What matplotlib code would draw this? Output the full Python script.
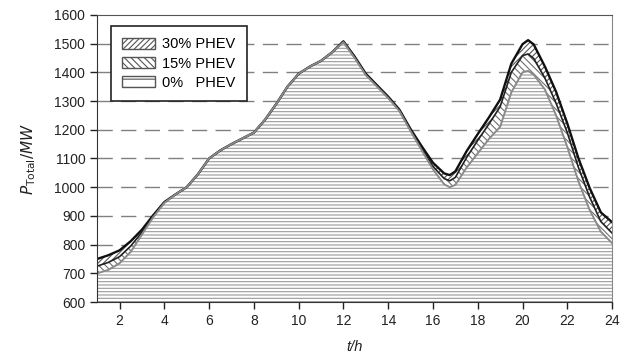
import matplotlib.pyplot as plt
from matplotlib.patches import Patch

plt.rcParams['font.family'] = ['Liberation Sans', 'DejaVu Sans']
plt.rcParams['hatch.linewidth'] = 0.8

# hour of day
t = [1, 1.5, 2, 2.5, 3, 3.5, 4, 4.5, 5, 5.5, 6, 6.5, 7, 7.5, 8, 8.5, 9, 9.5,
     10, 10.5, 11, 11.5, 12, 12.5, 13, 13.5, 14, 14.5, 15, 15.5, 16, 16.5,
     16.75, 17, 17.5, 18, 18.5, 19, 19.5, 20, 20.25, 20.5, 21, 21.5, 22,
     22.5, 23, 23.5, 24]

# total load (MW)
p0 = [700, 712, 735, 775, 835, 895, 945, 975, 1000, 1045, 1100, 1128, 1150,
      1170, 1190, 1235, 1290, 1350, 1395, 1420, 1440, 1470, 1505, 1450, 1390,
      1350, 1310, 1265, 1195, 1128, 1062, 1010, 1000, 1008, 1068, 1118, 1168,
      1210, 1330, 1400, 1405, 1392, 1340, 1250, 1140, 1020, 920, 845, 805]
p15 = [725, 738, 758, 795, 843, 897, 946, 975, 1000, 1045, 1100, 1128, 1150,
       1170, 1190, 1235, 1290, 1350, 1395, 1420, 1440, 1470, 1506, 1452, 1392,
       1352, 1312, 1267, 1198, 1134, 1072, 1030, 1022, 1034, 1103, 1163, 1220,
       1280, 1400, 1458, 1464, 1448, 1380, 1292, 1190, 1068, 965, 880, 840]
p30 = [750, 763, 780, 812, 852, 902, 948, 975, 1000, 1045, 1100, 1128, 1150,
       1170, 1190, 1235, 1290, 1350, 1395, 1420, 1440, 1470, 1508, 1455, 1395,
       1355, 1315, 1270, 1202, 1142, 1085, 1048, 1042, 1055, 1125, 1185, 1243,
       1305, 1430, 1498, 1512, 1497, 1420, 1332, 1222, 1100, 997, 912, 878]

fig = plt.figure(figsize=(6.31, 3.63), dpi=100)
ax = fig.add_axes([0.154, 0.168, 0.816, 0.791])

for v in range(700, 1600, 100):
    ax.axhline(v, color='#808080', lw=1, dashes=(11, 6), zorder=0.5)

ax.fill_between(t, 600, p0, facecolor='white', edgecolor='#9a9a9a',
                hatch='-----', lw=0, zorder=1)
ax.fill_between(t, p0, p15, facecolor='white', edgecolor='#707070',
                hatch='\\\\\\\\\\', lw=0, zorder=1)
ax.fill_between(t, p15, p30, facecolor='white', edgecolor='#555555',
                hatch='//////', lw=0, zorder=1)

# draw highest scenario first so the 0% line sits on top where they coincide
ax.plot(t, p30, color='#101010', lw=1.7, zorder=2)
ax.plot(t, p15, color='#202020', lw=1.2, zorder=2.1)
ax.plot(t, p0, color='#8a8a8a', lw=1.4, zorder=2.2)

ax.set_xlim(1, 24)
ax.set_ylim(600, 1600)
ax.set_xticks(range(2, 25, 2))
ax.set_yticks(range(600, 1601, 100))
ax.tick_params(labelsize=10, length=5, width=1, colors='#222222')
for s in ax.spines.values():
    s.set_color('#333333')
ax.spines['top'].set_color('#555555')
ax.spines['right'].set_color('#888888')

ax.set_xlabel('t/h', fontsize=10.5, style='italic', color='#222222', labelpad=9)
ax.set_ylabel('$P_{\\mathrm{Total}}/MW$', fontsize=11, color='#222222', labelpad=12)

handles = [
    Patch(facecolor='white', edgecolor='#555555', hatch='//////', label='30% PHEV'),
    Patch(facecolor='white', edgecolor='#555555', hatch='\\\\\\\\\\', label='15% PHEV'),
    Patch(facecolor='white', edgecolor='#555555', hatch='--', label='0%   PHEV'),
]
leg = ax.legend(handles=handles, loc='upper left', bbox_to_anchor=(0.012, 0.985),
                fontsize=10.5, frameon=True, fancybox=False, framealpha=1,
                edgecolor='#222222', handlelength=2.3, handleheight=0.75,
                handletextpad=0.5, labelspacing=0.35, borderpad=0.75)
leg.get_frame().set_linewidth(1.2)
leg.set_zorder(5)

fig.savefig('out.png', dpi=100)
